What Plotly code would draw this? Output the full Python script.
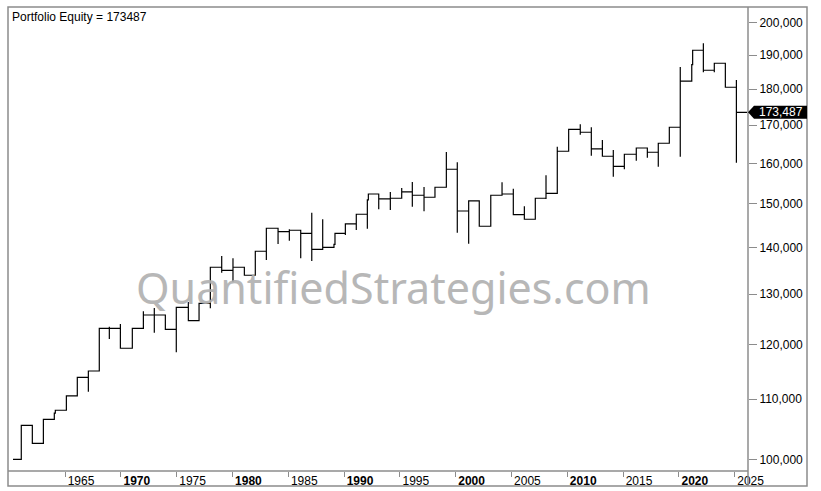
import math
import plotly.graph_objects as go

# ---------------- data ----------------
start_year = 1960.34
start_equity = 100000
end_year = 2026.11

event_year = [1961.08, 1962.07, 1963.06, 1964.04, 1964.13, 1965.12, 1966.10, 1967.09, 1968.07, 1968.97,
              1969.96, 1971.03, 1972.02, 1973.00, 1973.99, 1974.97, 1976.05, 1977.01, 1978.02, 1979.04,
              1980.05, 1981.07, 1982.05, 1983.04, 1984.09, 1985.10, 1986.12, 1987.11, 1988.09, 1989.10,
              1989.19, 1990.12, 1991.10, 1992.09, 1992.18, 1993.11, 1994.15, 1995.17, 1996.12, 1997.17,
              1998.15, 1999.17, 2000.15, 2001.17, 2002.12, 2003.15, 2004.16, 2005.17, 2006.16, 2007.14,
              2008.10, 2009.11, 2010.13, 2011.17, 2012.16, 2013.15, 2014.13, 2015.12, 2016.19, 2017.18,
              2018.16, 2019.15, 2020.13, 2021.16, 2021.24, 2022.20, 2023.18, 2024.17, 2025.16]

event_close = [105550, 102570, 106560, 107600, 108100, 110580, 113910, 115050, 123120, 123120,
               119280, 123120, 125750, 125750, 122930, 127300, 124620, 128110, 135650, 135000,
               135650, 133940, 139140, 144320, 143540, 143860, 143170, 139580, 140020, 140690,
               143170, 145310, 147560, 150950, 152390, 151190, 151360, 152880, 152080, 151600,
               154030, 158490, 148330, 150710, 144780, 152080, 152390, 147460, 146400, 151360,
               152560, 163090, 168880, 168080, 163680, 161800, 159240, 162310, 163940, 162830,
               165170, 169420, 182270, 187120, 191460, 185480, 187540, 180540, 173487]

event_low = [None, None, None, None, None, None, None, 111330, None, 121050,
             None, None, None, 122270, None, 118520, None, None, 127100, 134490,
             132520, None, None, 137230, 140760, 141500, 137600, 137010, None, None,
             None, 142790, 143930, 144230, None, 148740, 148570, None, 149350, 148260,
             None, None, 143310, 140830, None, None, None, None, None, None,
             151190, None, None, 167440, 161950, None, 156630, 158490, 160670, 161440,
             159140, None, 161690, None, None, 184890, 184890, None, 160160]

event_high = [None, None, None, None, None, None, None, None, None, 123440,
              123970, None, 126490, 127160, None, None, 128380, None, None, 138100,
              137600, None, None, None, None, 144090, None, 147940, 146400, None,
              None, None, None, None, None, None, 152880, 153850, 155330, 154100,
              None, 162900, 160260, None, None, None, 155250, 153680, 149440, None,
              156990, 164280, None, 170220, 169420, 166040, 163420, None, None, None,
              None, None, 186440, None, None, 193600, None, None, 182640]

y_ticks = [100000, 110000, 120000, 130000, 140000, 150000, 160000, 170000, 180000, 190000, 200000]
x_ticks = [1965, 1970, 1975, 1980, 1985, 1990, 1995, 2000, 2005, 2010, 2015, 2020, 2025]
last_value = 173487
title_text = "Portfolio Equity = 173487"
watermark = "QuantifiedStrategies.com"

# ---------------- build the equity path ----------------
xs = [start_year]
ys = [start_equity]
prev = start_equity
for yr, c, lo, hi in zip(event_year, event_close, event_low, event_high):
    lo_v = min(v for v in (lo, prev, c) if v is not None)
    hi_v = max(v for v in (hi, prev, c) if v is not None)
    xs += [yr, yr, yr, yr]
    ys += [prev, lo_v, hi_v, c]
    prev = c
xs.append(end_year)
ys.append(prev)

FONT = "Liberation Sans, Arial, sans-serif"
GREY = "#8c8c8c"
Y_RANGE = [4.99193, 5.3119]
W, H = 821, 491
ML, MR, MT, MB = 8, 73, 7, 20
PLOT_W = W - ML - MR
PLOT_H = H - MT - MB

fig = go.Figure()
fig.add_trace(go.Scatter(x=xs, y=ys, mode="lines",
                         line=dict(color="black", width=1.2, shape="linear"),
                         hoverinfo="skip", showlegend=False))

def fmt(v):
    return f"{v:,}"

def xlab(y):
    return f"<b>{y}</b>" if y % 10 == 0 else str(y)

fig.update_layout(
    width=W, height=H,
    margin=dict(l=ML, r=MR, t=MT, b=MB, autoexpand=False),
    paper_bgcolor="white", plot_bgcolor="white",
    showlegend=False,
    xaxis=dict(range=[1959.89, 2026.20], tickvals=x_ticks, ticktext=[xlab(v) for v in x_ticks],
               ticks="outside", ticklen=5, tickcolor=GREY, tickwidth=1,
               showgrid=False, zeroline=False, showline=False, automargin=False,
               tickfont=dict(family=FONT, size=12, color="black"),
               ticklabelshift=16, ticklabelstandoff=-6, fixedrange=True),
    yaxis=dict(type="log", side="right", range=Y_RANGE,
               tickvals=y_ticks, ticktext=[fmt(v) for v in y_ticks],
               ticks="outside", ticklen=8, tickcolor=GREY, tickwidth=1,
               showgrid=False, zeroline=False, showline=False, automargin=False,
               tickfont=dict(family=FONT, size=12, color="black"), fixedrange=True),
)

# last value marker position (paper units), from the value on the log axis
yp = (math.log10(last_value) - Y_RANGE[0]) / (Y_RANGE[1] - Y_RANGE[0])
px = 1.0 / PLOT_W
py = 1.0 / PLOT_H
marker_path = (f"M 1,{yp} L {1 + 6 * px},{yp + 6.5 * py} L {1 + 59 * px},{yp + 6.5 * py} "
               f"L {1 + 59 * px},{yp - 6.5 * py} L {1 + 6 * px},{yp - 6.5 * py} Z")

shapes = [
    # outer frame
    dict(type="rect", xref="paper", yref="paper", x0=0, x1=1 + 59 * px, y0=-15 * py, y1=1,
         line=dict(color=GREY, width=1.5)),
    # right edge of the price pane
    dict(type="line", xref="paper", yref="paper", x0=1, x1=1, y0=-15 * py, y1=1,
         line=dict(color=GREY, width=1.5)),
    # bottom axis line
    dict(type="line", xref="paper", yref="paper", x0=0, x1=1, y0=0, y1=0,
         line=dict(color=GREY, width=1.5)),
    dict(type="path", xref="paper", yref="paper", path=marker_path,
         fillcolor="black", line=dict(color="black", width=0), layer="above"),
]
fig.update_layout(shapes=shapes)

fig.add_annotation(text=title_text, xref="paper", yref="paper", x=0, y=1,
                   xanchor="left", yanchor="top", xshift=2, yshift=-1, showarrow=False,
                   font=dict(family=FONT, size=12, color="black"))
fig.add_annotation(text=fmt(last_value), xref="paper", yref="paper", x=1, y=yp,
                   xanchor="left", yanchor="middle", xshift=9, showarrow=False,
                   font=dict(family=FONT, size=12, color="white"))
fig.add_annotation(text=watermark, xref="paper", yref="paper", x=0.5205, y=0.395,
                   xanchor="center", yanchor="middle", showarrow=False, opacity=0.9,
                   font=dict(family="Noto Sans, Open Sans, sans-serif", size=43, color="#b0b0b0"))

fig.write_html("out.html", config={"displayModeBar": False, "staticPlot": True},
               post_script="document.body.style.margin='0';document.body.style.padding='0';"
                           "document.body.style.overflow='hidden';")
